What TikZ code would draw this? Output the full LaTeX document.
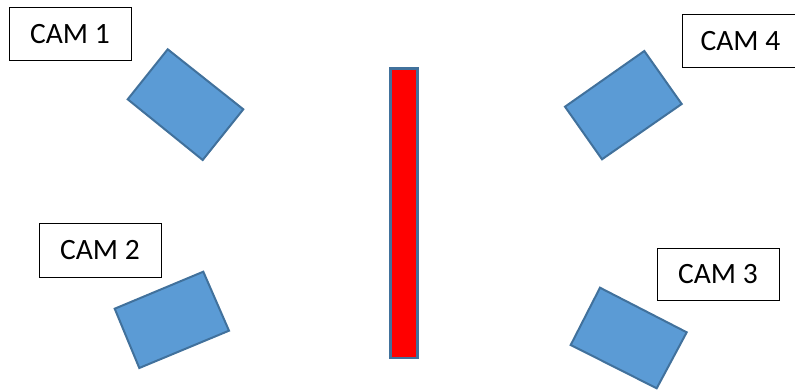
\documentclass[tikz,border=0pt]{standalone}
\usepackage{fontspec}
\setmainfont{Carlito}
\definecolor{camfill}{HTML}{5B9BD5}
\definecolor{camline}{HTML}{41719C}
\definecolor{barred}{HTML}{FF0000}
\begin{document}
\begin{tikzpicture}[x=1pt,y=-1pt,
  label box/.style={draw=black,line width=1pt,fill=white,inner sep=0pt,
    font=\fontsize{29.5}{34}\selectfont},
  cam/.style={draw=camline,fill=camfill,line width=2pt,line join=miter},
  wall/.style={draw=camline,fill=barred,line width=2.4pt}]
\useasboundingbox (0,0) rectangle (795,390);
% labels
\node[label box,minimum width=122pt,minimum height=53pt] (l1) at (70,34.5) {CAM 1};
\node[label box,minimum width=117pt,minimum height=52.5pt] (l4) at (740.5,41) {CAM 4};
\node[label box,minimum width=122pt,minimum height=53pt] (l2) at (100,250.5) {CAM 2};
\node[label box,minimum width=122pt,minimum height=52.5pt] (l3) at (718,274.5) {CAM 3};
% cameras
\draw[cam] (167.7,49.3) -- (243.3,109.3) -- (202.7,160) -- (127.7,99.3) -- cycle;
\draw[cam] (644.3,51) -- (681.7,104) -- (602,159.3) -- (565,106.7) -- cycle;
\draw[cam] (203.3,271.7) -- (229,330.7) -- (139.3,368) -- (114.7,308.7) -- cycle;
\draw[cam] (600,287.7) -- (686.7,332.3) -- (656.7,388.3) -- (570.7,345) -- cycle;
% wall
\draw[wall] (390.5,68.5) rectangle (417.5,358);
\end{tikzpicture}
\end{document}
